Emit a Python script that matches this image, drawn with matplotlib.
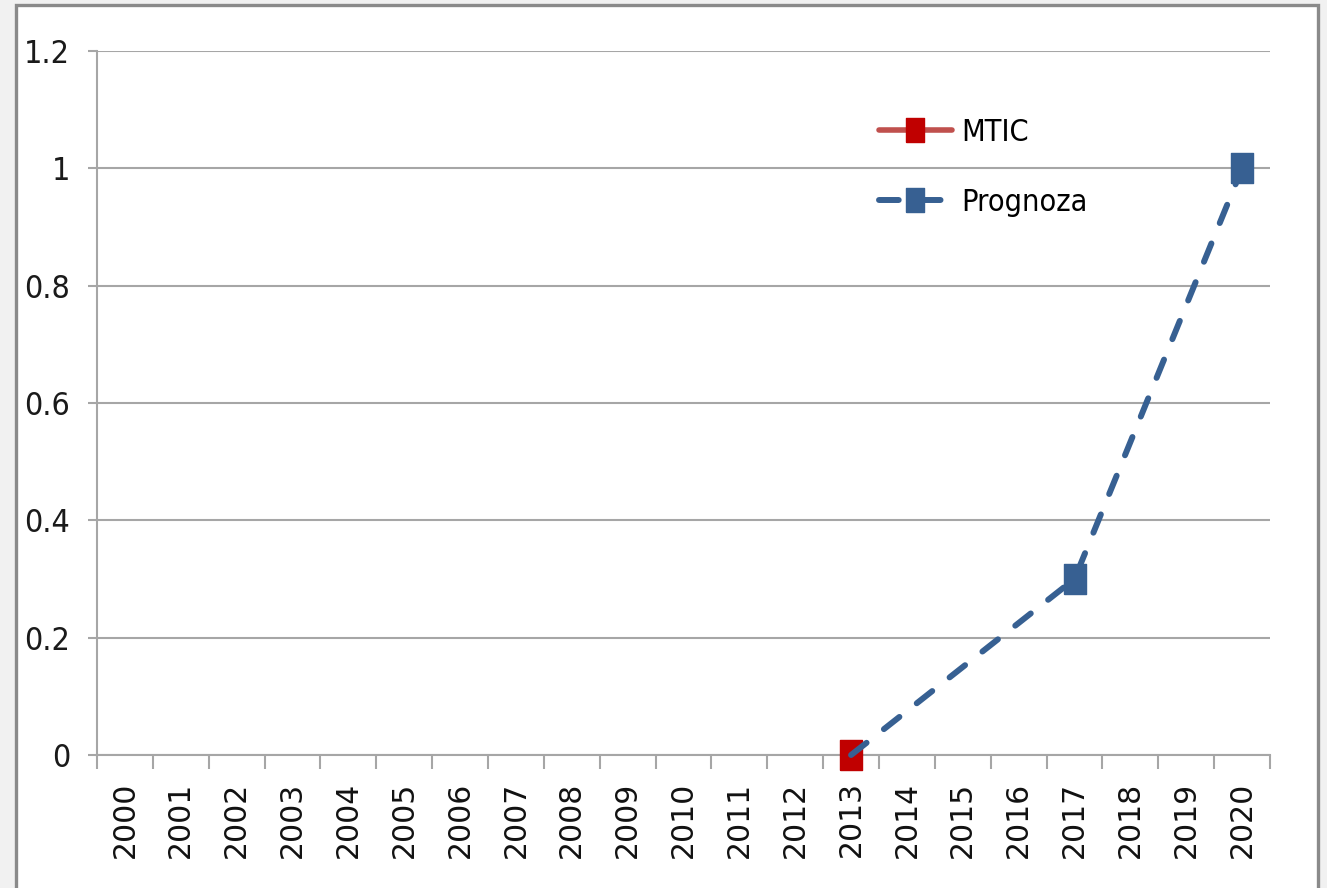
import numpy as np
import matplotlib
matplotlib.use("Agg")
import matplotlib.pyplot as plt
from matplotlib import font_manager
from matplotlib.patches import Rectangle
from matplotlib.ticker import FixedLocator

years = [str(y) for y in range(2000, 2021)]
mtic = [np.nan] * 13 + [0.0] + [np.nan] * 7
prognoza = [np.nan] * 13 + [0.0, np.nan, np.nan, np.nan, 0.3, np.nan, np.nan, 1.0]
y_ticks = [0, 0.2, 0.4, 0.6, 0.8, 1.0, 1.2]
y_labels = ["0", "0.2", "0.4", "0.6", "0.8", "1", "1.2"]

RED_LINE = "#c0504d"
RED_MARK = "#c00000"
BLUE = "#376092"
GRID = "#a6a6a6"

# pick a narrow face if one is around, the original text is very condensed
names = {f.name for f in font_manager.fontManager.ttflist}
narrow = {"family": "Liberation Sans", "stretch": "normal"}
if "Liberation Sans Narrow" in names:
    narrow = {"family": "Liberation Sans Narrow", "stretch": "normal"}
elif any(f.name == "DejaVu Sans" and f.stretch == "condensed"
         for f in font_manager.fontManager.ttflist):
    narrow = {"family": "DejaVu Sans", "stretch": "condensed"}

# tall rectangle, like the stretched squares of the original
box = [(-0.72, -1), (0.72, -1), (0.72, 1), (-0.72, 1), (-0.72, -1)]

W, H = 1327, 888
fig = plt.figure(figsize=(W / 100, H / 100), dpi=100, facecolor="#f1f1f1")
frame = Rectangle((16 / W, -0.05), (1318 - 16) / W, 1.05 - 5.5 / H,
                  transform=fig.transFigure, facecolor="white",
                  edgecolor="#8a8a8a", lw=2.4, zorder=-5)
fig.add_artist(frame)

ax = fig.add_axes([97 / W, 1 - 755 / H, (1270 - 97) / W, (755 - 51) / H])
ax.set_facecolor("none")

x = np.arange(len(years))
m = np.array(mtic)
p = np.array(prognoza)

ok = ~np.isnan(m)
ax.plot(x[ok], m[ok], color=RED_LINE, lw=4, marker=box, ms=22,
        mfc=RED_MARK, mec=RED_MARK, label="MTIC", zorder=3,
        solid_capstyle="round", clip_on=False)
ok = ~np.isnan(p)
ax.plot(x[ok], p[ok], color=BLUE, lw=4.3, ls=(0, (3.3, 3.7)),
        dash_capstyle="round", marker=box, ms=22, mfc=BLUE, mec=BLUE,
        markevery=[1, 2], label="Prognoza", zorder=4, clip_on=False)

ax.set_xlim(-0.5, len(years) - 0.5)
ax.set_ylim(0, 1.2)

ax.set_yticks(y_ticks)
ax.set_yticklabels(y_labels, fontsize=23, color="#1a1a1a", **narrow)
ax.tick_params(axis="y", length=6.5, width=1.5, color=GRID, pad=13)
ax.grid(axis="y", color=GRID, lw=1.5)
ax.set_axisbelow(True)

ax.set_xticks(x)
ax.set_xticklabels(years, rotation=90, fontsize=21.5, family="DejaVu Sans",
                   color="#111111", va="top")
ax.xaxis.set_minor_locator(FixedLocator(np.arange(-0.5, len(years), 1)))
ax.tick_params(axis="x", which="major", length=0, pad=19)
ax.tick_params(axis="x", which="minor", length=10, width=1.5, color=GRID)

for s in ["top", "right"]:
    ax.spines[s].set_visible(False)
for s in ["left", "bottom"]:
    ax.spines[s].set_color(GRID)
    ax.spines[s].set_linewidth(1.5)

leg = ax.legend(loc="upper left", bbox_to_anchor=(851 / W, 1 - 90 / H),
                bbox_transform=fig.transFigure, frameon=False,
                prop={"size": 22, **narrow}, handlelength=2.4,
                handletextpad=0.3, labelspacing=1.35, markerscale=0.8)

fig.savefig("out.png", dpi=100, facecolor=fig.get_facecolor())
